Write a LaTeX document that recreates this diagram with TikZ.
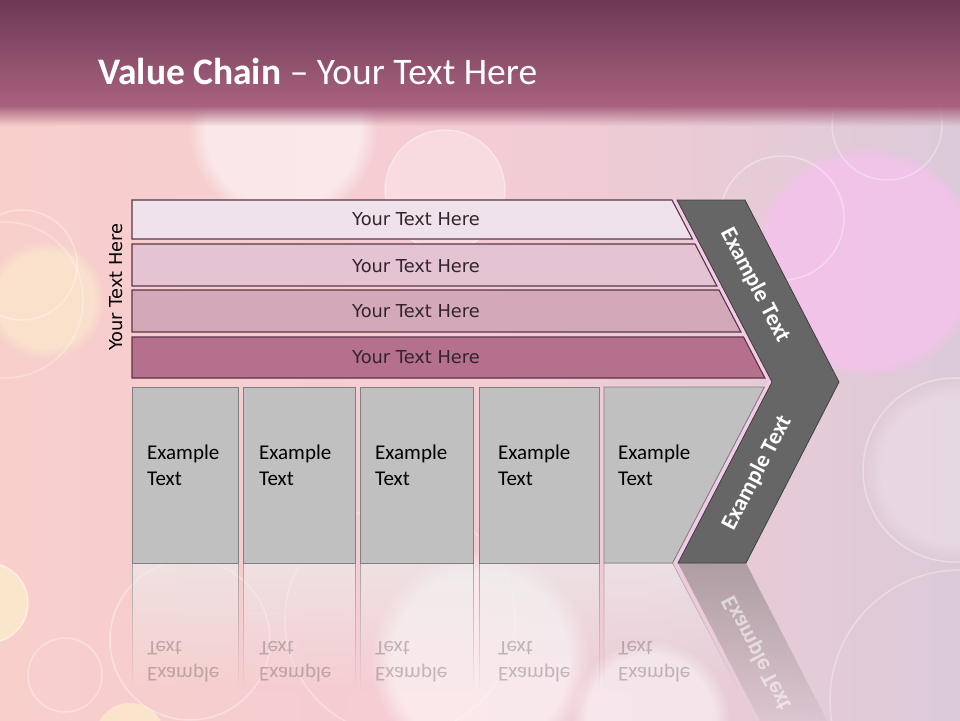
\documentclass[tikz,border=0pt]{standalone}
\usepackage{fontspec}
\setmainfont{Carlito}
\newfontfamily\dejavu{DejaVu Sans}
\usetikzlibrary{fadings}
\tikzfading[name=fadedown, top color=transparent!0, bottom color=transparent!100]
\tikzfading[name=reflfade, top color=transparent!35, bottom color=transparent!100]
\tikzfading[name=reflfadeB, top color=transparent!55, bottom color=transparent!100]
\definecolor{hdtop}{HTML}{6C3853}
\definecolor{hdbot}{HTML}{A8627F}
\definecolor{bgleft}{HTML}{F8CFCB}
\definecolor{bgmid}{HTML}{F4CCD4}
\definecolor{bgright}{HTML}{DCCAD8}
\definecolor{barA}{HTML}{F0E2EA}
\definecolor{barB}{HTML}{E4C4D2}
\definecolor{barC}{HTML}{D3A9BA}
\definecolor{barD}{HTML}{B5708D}
\definecolor{barline}{HTML}{5C3447}
\definecolor{boxfill}{HTML}{C0C0C0}
\definecolor{boxline}{HTML}{808080}
\definecolor{chev}{HTML}{666666}
\definecolor{chevline}{HTML}{3F3F3F}
\definecolor{glow}{HTML}{F3CBE8}
\definecolor{bartext}{HTML}{33242C}
\definecolor{bokehpink}{HTML}{F5C2EE}
\definecolor{cream}{HTML}{FCF0CC}
\begin{document}
\begin{tikzpicture}[x=1pt,y=-1pt,
  barshape/.style={draw=barline, line width=1.1pt},
  bartxt/.style={font=\dejavu\fontsize{17.8}{20}\selectfont, text=bartext, inner sep=0pt},
  boxshape/.style={draw=boxline, fill=boxfill, line width=0.9pt},
  boxtxt/.style={font=\fontsize{21}{25.6}\selectfont, text=black, align=left, anchor=north west, inner sep=0pt},
  chevtxt/.style={font=\bfseries\fontsize{23}{27}\selectfont, text=white, inner sep=0pt},
  reflbox/.style={fill=white!70!boxfill, draw=boxline, line width=0.6pt, path fading=reflfade},
  refltxt/.style={text opacity=0.22},
  bokeh/.style={fill=white, fill opacity=#1, draw=white, draw opacity=0.45, line width=1.2pt},
  ring/.style={draw=white, draw opacity=#1, line width=1.5pt}
]
\useasboundingbox (0,0) rectangle (960,720);
% ---------- background ----------
\shade[left color=bgleft, right color=bgright, middle color=bgmid] (0,0) rectangle (960,720);
\fill[white, opacity=0.55, path fading=circle with fuzzy edge 20 percent] (283,130) circle (95);
\path[bokeh=0.30] (445,190) circle (60);
\fill[bokehpink, opacity=0.8, path fading=circle with fuzzy edge 10 percent] (866,262) circle (116);
\path[ring=0.35] (782,218) circle (62);
\path[ring=0.30] (887,125) circle (55);
\fill[cream, opacity=0.55, path fading=circle with fuzzy edge 20 percent] (45,300) circle (60);
\path[ring=0.35] (22,265) circle (55);
\path[ring=0.30] (5,300) circle (78);
\fill[cream, opacity=0.7] (-12,603) circle (40);
\path[ring=0.5] (-12,603) circle (40);
\path[ring=0.35] (65,675) circle (37);
\fill[cream, opacity=0.7] (130,738) circle (35);
\path[ring=0.35] (190,640) circle (80);
\path[ring=0.30] (400,620) circle (115);
\fill[white, opacity=0.55, path fading=circle with fuzzy edge 20 percent] (480,660) circle (110);
\fill[white, opacity=0.5, path fading=circle with fuzzy edge 20 percent] (650,720) circle (80);
\path[ring=0.35] (955,470) circle (92);
\path[ring=0.30] (960,700) circle (130);
\fill[white, opacity=0.25, path fading=circle with fuzzy edge 20 percent] (955,470) circle (92);
% ---------- header ----------
\shade[top color=hdtop, bottom color=hdbot] (-10,-2) rectangle (970,106);
\fill[hdbot, path fading=fadedown] (-10,105.5) rectangle (970,126);
\node[font=\fontsize{37.5}{42}\selectfont, text=white, anchor=base west, inner sep=0pt] (title) at (98,84)
  {\textbf{Value Chain} – Your Text Here};
% ---------- left vertical label ----------
\node[bartxt, text=black, rotate=90] (side) at (116,287) {Your Text Here};
% ---------- reflections ----------
\path[reflbox] (132,563) rectangle (238,690);
\path[reflbox] (243,563) rectangle (355,690);
\path[reflbox] (360,563) rectangle (473,690);
\path[reflbox] (479,563) rectangle (599,690);
\path[reflbox] (604,563) -- (672.5,563) -- (739,690) -- (604,690) -- cycle;
\fill[chev, path fading=reflfadeB] (678,563) -- (746,563) -- (839,744) -- (772,744) -- cycle;
\draw[glow, line width=2.5pt, path fading=reflfade] (676,563) -- (770,744);
\begin{scope}[shift={(0,1126)}, yscale=-1, transform shape]
  \node[boxtxt, refltxt] (r1) at (147,444) {Example\\Text};
  \node[boxtxt, refltxt] (r2) at (259,444) {Example\\Text};
  \node[boxtxt, refltxt] (r3) at (375,444) {Example\\Text};
  \node[boxtxt, refltxt] (r4) at (498,444) {Example\\Text};
  \node[boxtxt, refltxt] (r5) at (618,444) {Example\\Text};
  \node[chevtxt, rotate=62.4, text opacity=0.55] (rc) at (757,473) {Example Text};
\end{scope}
% ---------- chevron ----------
\draw[glow, line width=4pt, line join=miter] (675,200) -- (770,382) -- (676,563);
\draw[fill=chev, draw=chevline, line width=0.8pt] (677,200) -- (745,200) -- (839,382) -- (746,563) -- (678,563) -- (772,382) -- cycle;
\node[chevtxt, rotate=-62.4] (c1) at (755,285) {Example Text};
\node[chevtxt, rotate=62.4] (c2) at (757,473) {Example Text};
% ---------- bars ----------
\draw[barshape, fill=barA] (132,200) -- (672,200) -- (692.4,239) -- (132,239) -- cycle;
\draw[barshape, fill=barB] (132,244) -- (695,244) -- (716.9,286) -- (132,286) -- cycle;
\draw[barshape, fill=barC] (132,290) -- (719,290) -- (740.9,332) -- (132,332) -- cycle;
\draw[barshape, fill=barD] (132,337) -- (743.5,337) -- (764.9,378) -- (132,378) -- cycle;
\node[bartxt] (b1) at (416,219.5) {Your Text Here};
\node[bartxt] (b2) at (416,266) {Your Text Here};
\node[bartxt] (b3) at (416,311) {Your Text Here};
\node[bartxt] (b4) at (416,357) {Your Text Here};
% ---------- boxes ----------
\draw[boxshape] (132,387) rectangle (238,563);
\draw[boxshape] (243,387) rectangle (355,563);
\draw[boxshape] (360,387) rectangle (473,563);
\draw[boxshape] (479,387) rectangle (599,563);
\draw[boxshape] (604,387) -- (764.4,387) -- (672.5,563) -- (604,563) -- cycle;
\node[boxtxt] (x1) at (147,445) {Example\\Text};
\node[boxtxt] (x2) at (259,445) {Example\\Text};
\node[boxtxt] (x3) at (375,445) {Example\\Text};
\node[boxtxt] (x4) at (498,445) {Example\\Text};
\node[boxtxt] (x5) at (618,445) {Example\\Text};
\end{tikzpicture}
\end{document}
